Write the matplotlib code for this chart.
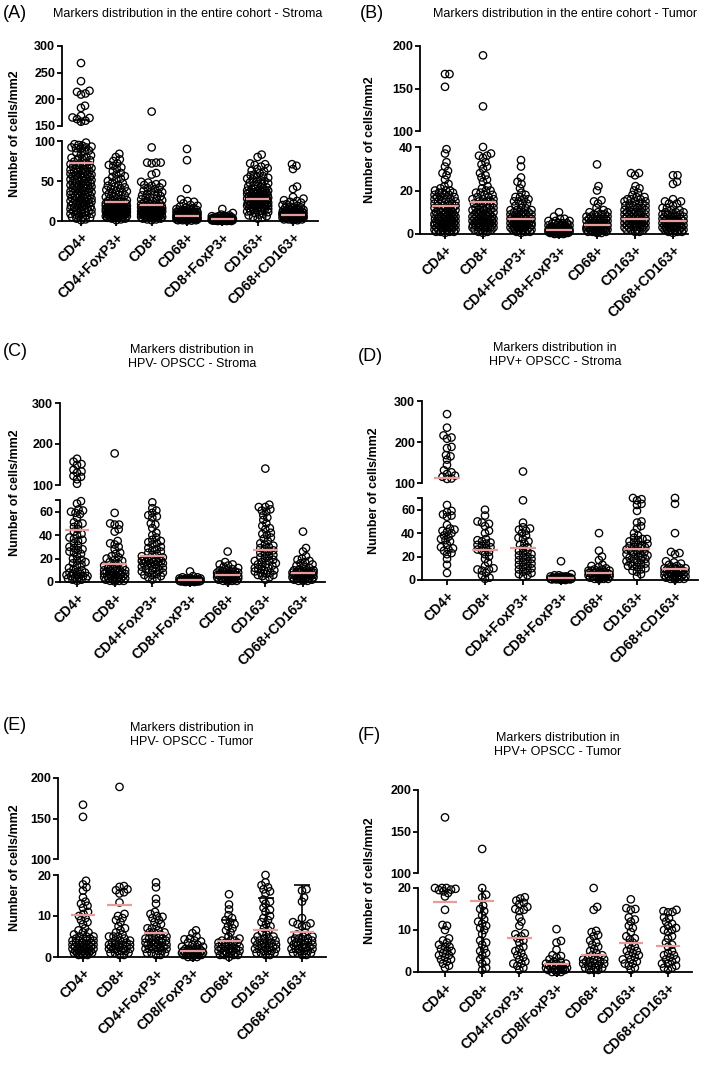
"""
Marker density dot plots (cells/mm2) with broken y axes, six panels A-F.
"""

import numpy as np
import matplotlib

matplotlib.use("Agg")

import matplotlib.pyplot as plt

plt.rcParams["font.family"] = ["Liberation Sans", "DejaVu Sans"]

W, H = 709, 1065

CATS_A = ["CD4+", "CD4+FoxP3+", "CD8+", "CD68+", "CD8+FoxP3+", "CD163+", "CD68+CD163+"]
CATS_BCD = ["CD4+", "CD8+", "CD4+FoxP3+", "CD8+FoxP3+", "CD68+", "CD163+", "CD68+CD163+"]
CATS_EF = ["CD4+", "CD8+", "CD4+FoxP3+", "CD8/FoxP3+", "CD68+", "CD163+", "CD68+CD163+"]

# ---- (A) entire cohort, stroma
A_CD4 = [268, 234, 216, 214, 211, 209, 188, 184, 169, 166, 165, 163, 160, 158,
         98, 96, 95, 94, 93, 92, 92, 91, 90, 88, 87, 85, 83, 82, 80, 79, 78, 77,
         76, 74, 73, 72, 71, 70, 69, 68, 67, 66, 65, 64, 63, 62, 62, 61, 60, 59,
         58, 58, 57, 56, 55, 54, 54, 53, 52, 51, 50, 49, 48, 48, 47, 46, 45, 44,
         44, 43, 42, 42, 41, 40, 39, 38, 37, 36, 36, 35, 34, 33, 32, 31, 30, 30,
         29, 28, 27, 26, 25, 25, 24, 24, 23, 22, 21, 21, 20, 19, 18, 17, 17, 16,
         15, 14, 13, 13, 12, 11, 10, 9, 9, 8, 7, 6, 5, 5, 4, 3, 2, 1,
         45, 52, 38, 61, 27, 33, 18, 56, 41, 66, 12, 29, 47, 35, 22, 58, 15, 70,
         43, 26, 9, 31, 50, 37, 64]
A_CD4FOXP3 = [84, 80, 77, 75, 72, 70, 69, 67, 65, 62, 60, 58, 56, 55, 53, 52, 50,
              48, 47, 45, 44, 43, 42, 41, 40, 39, 38, 37, 36, 35, 34, 33, 32, 31,
              30, 29, 28, 27, 26, 25, 25, 24, 24, 23, 23, 22, 22, 21, 21, 20, 20,
              20, 19, 19, 18, 18, 18, 17, 17, 16, 16, 16, 15, 15, 15, 14, 14, 14,
              13, 13, 13, 12, 12, 12, 11, 11, 11, 10, 10, 10, 9, 9, 9, 8, 8, 8, 7,
              7, 7, 6, 6, 6, 5, 5, 4, 4, 3, 3, 2, 1,
              12, 14, 9, 16, 11, 18, 7, 13, 15, 10, 19, 8, 17, 6, 21, 12, 14, 9,
              11, 13, 16, 10, 5, 22, 15]
A_CD8 = [177, 92, 73, 73, 73, 72, 60, 58, 49, 48, 47, 46, 45, 44, 42, 41, 40, 38,
         37, 36, 35, 34, 33, 32, 31, 30, 29, 28, 27, 26, 25, 24, 23, 22, 22, 21,
         21, 20, 20, 19, 19, 19, 18, 18, 17, 17, 17, 16, 16, 15, 15, 15, 14, 14,
         14, 13, 13, 12, 12, 12, 11, 11, 11, 10, 10, 10, 9, 9, 9, 8, 8, 8, 7, 7,
         7, 6, 6, 6, 5, 5, 4, 4, 3, 3, 2, 2, 1,
         8, 11, 14, 6, 17, 9, 12, 15, 5, 10, 13, 7, 16, 18, 4, 9, 11, 14, 8, 12]
A_CD68 = [90, 76, 40, 27, 25, 24, 22, 20, 19, 18, 17, 16, 15, 15, 14, 14, 13, 13,
          13, 12, 12, 12, 11, 11, 11, 10, 10, 10, 10, 9, 9, 9, 9, 8, 8, 8, 8, 7,
          7, 7, 7, 6, 6, 6, 6, 6, 5, 5, 5, 5, 5, 4, 4, 4, 4, 4, 3, 3, 3, 3, 3, 2,
          2, 2, 2, 1, 1, 1, 0.5, 0.5,
          3, 5, 7, 2, 4, 6, 8, 3, 5, 9, 4, 6, 2, 7, 3, 5, 10, 4]
A_CD8FOXP3 = [15, 10, 8, 7, 6, 6, 6, 5, 5, 5, 5, 4, 4, 4, 4, 4, 3, 3, 3, 3, 3, 3,
              2, 2, 2, 2, 2, 2, 2, 1.5, 1.5, 1, 1, 1, 1, 1, 1, 0.5, 0.5, 0.5, 0.5,
              0, 0, 0, 0, 1, 2, 3, 1.5, 2.5, 0.5, 1, 2, 3, 4, 1, 2]
A_CD163 = [83, 80, 72, 71, 70, 68, 66, 65, 63, 62, 60, 58, 57, 56, 55, 54, 53, 52,
           51, 50, 49, 48, 47, 46, 45, 44, 43, 42, 41, 40, 40, 39, 38, 38, 37, 36,
           36, 35, 34, 34, 33, 32, 32, 31, 30, 30, 29, 29, 28, 28, 27, 27, 26, 26,
           25, 25, 24, 24, 23, 23, 22, 22, 21, 21, 20, 20, 19, 19, 18, 18, 17, 16,
           16, 15, 14, 14, 13, 12, 11, 10, 9, 8, 7, 6, 5, 4, 3,
           25, 30, 22, 35, 28, 18, 32, 26, 20, 38, 24, 29, 15, 33, 27, 21, 31, 12,
           36, 23]
A_CD68CD163 = [71, 69, 65, 43, 40, 30, 28, 26, 25, 24, 23, 22, 21, 20, 19, 18, 17,
               16, 16, 15, 15, 14, 14, 14, 13, 13, 13, 12, 12, 12, 11, 11, 11, 10,
               10, 10, 10, 9, 9, 9, 9, 8, 8, 8, 8, 7, 7, 7, 7, 6, 6, 6, 6, 5, 5, 5,
               5, 4, 4, 4, 4, 3, 3, 3, 2, 2, 2, 1, 1,
               4, 6, 8, 10, 5, 7, 9, 3, 6, 11, 4, 8, 12, 5, 7, 2, 9, 6]
A_MEAN = [72, 24, 20, 6, 2, 28, 8]
A_SD = [90, None, None, None, None, None, None]

# ---- (B) entire cohort, tumor
B_CD4 = [167, 167, 152, 39, 37, 33, 31, 29, 28, 27, 25, 23, 22, 21, 20, 20, 20, 19,
         19, 19, 18, 18, 18, 17, 17, 17, 16, 16, 16, 15, 15, 15, 14, 14, 14, 13,
         13, 13, 12, 12, 12, 12, 11, 11, 11, 11, 10, 10, 10, 10, 9, 9, 9, 9, 8, 8,
         8, 8, 7, 7, 7, 7, 6, 6, 6, 6, 5, 5, 5, 5, 5, 4, 4, 4, 4, 4, 3, 3, 3, 3,
         3, 2, 2, 2, 2, 1, 1, 1, 0.5,
         3, 5, 7, 9, 4, 6, 8, 2, 10, 3, 5, 12, 4, 7, 6, 2, 9, 5, 3, 8, 4, 11, 6, 1]
B_CD8 = [189, 129, 40, 37, 36, 36, 35, 33, 32, 31, 30, 28, 27, 26, 25, 24, 22, 21,
         20, 20, 19, 19, 18, 18, 17, 17, 16, 16, 16, 15, 15, 15, 14, 14, 14, 13,
         13, 12, 12, 12, 11, 11, 11, 10, 10, 10, 9, 9, 9, 9, 8, 8, 8, 8, 7, 7, 7,
         7, 6, 6, 6, 6, 5, 5, 5, 5, 4, 4, 4, 4, 3, 3, 3, 3, 2, 2, 2, 1, 1, 0.5,
         3, 5, 7, 4, 6, 8, 2, 10, 3, 5, 9, 4, 7, 6, 12, 5, 3, 8, 4, 11]
B_CD4FOXP3 = [34, 31, 26, 24, 23, 21, 19, 18, 17, 17, 16, 16, 15, 15, 14, 14, 13,
              12, 12, 11, 11, 11, 10, 10, 10, 10, 9, 9, 9, 9, 8, 8, 8, 8, 7, 7, 7,
              7, 7, 6, 6, 6, 6, 6, 5, 5, 5, 5, 5, 4, 4, 4, 4, 4, 3, 3, 3, 3, 3, 2,
              2, 2, 2, 1, 1, 1, 0.5,
              3, 5, 2, 4, 6, 3, 5, 7, 2, 4, 8, 3, 6, 4, 5, 9]
B_CD8FOXP3 = [10, 8, 7, 7, 6, 6, 6, 5, 5, 5, 5, 4, 4, 4, 4, 4, 3, 3, 3, 3, 3, 3,
              2.5, 2.5, 2, 2, 2, 2, 2, 2, 1.5, 1.5, 1.5, 1, 1, 1, 1, 1, 1, 0.5, 0.5,
              0.5, 0.5, 0.5, 0, 0, 0, 1, 2, 1, 3, 2, 1, 0.5, 2, 1.5, 3]
B_CD68 = [32, 22, 20, 15.5, 15, 14, 12, 11, 10, 10, 10, 9, 9, 9, 8, 8, 8, 8, 7, 7,
          7, 7, 6, 6, 6, 6, 6, 5, 5, 5, 5, 5, 4, 4, 4, 4, 4, 3, 3, 3, 3, 3, 3, 2, 2,
          2, 2, 2, 1, 1, 1, 1, 0.5, 0.5,
          2, 3, 4, 5, 2, 3, 4, 6, 1, 3, 5, 2, 4, 7]
B_CD163 = [28, 27, 28, 22, 21, 20, 19, 18, 17, 17, 16, 16, 16, 15, 15, 15, 14, 14,
           14, 13, 13, 13, 12, 12, 12, 11, 11, 11, 10, 10, 10, 10, 9, 9, 9, 9, 8, 8,
           8, 8, 7, 7, 7, 7, 6, 6, 6, 6, 5, 5, 5, 5, 4, 4, 4, 4, 3, 3, 3, 3, 2, 2,
           2, 1, 1, 3, 5, 7, 4, 6, 8, 2, 9, 5, 3, 6, 4, 10, 7, 5]
B_CD68CD163 = [27, 27, 24, 23, 16, 15, 15, 14, 14, 13, 12, 12, 11, 11, 10, 10, 10,
               9, 9, 9, 9, 8, 8, 8, 8, 7, 7, 7, 7, 6, 6, 6, 6, 6, 5, 5, 5, 5, 5, 4,
               4, 4, 4, 4, 3, 3, 3, 3, 2, 2, 2, 2, 1, 1, 1, 0.5,
               3, 5, 2, 4, 6, 3, 7, 4, 5, 2, 8, 3, 6, 4]
B_MEAN = [13, 14.5, 7, 1.7, 4.1, 7, 6.1]
B_SD = [None] * 7

# ---- (C) HPV- OPSCC, stroma
C_CD4 = [164, 157, 151, 149, 137, 133, 130, 122, 120, 114, 103, 69, 67, 62, 61, 60,
         59, 58, 55, 51, 50, 49, 47, 45, 43, 41, 40, 38, 37, 36, 35, 33, 31, 30,
         29, 28, 27, 26, 25, 24, 22, 20, 19, 18, 17, 16, 15, 14, 12, 11, 10, 9, 8,
         7, 6, 6, 5, 5, 4, 3, 2, 1, 8, 5, 3, 2, 4, 7]
C_CD8 = [177, 59, 50, 49, 49, 45, 43, 35, 33, 32, 30, 28, 25, 24, 22, 21, 20, 19,
         18, 17, 16, 15, 14, 13, 12, 11, 10, 10, 9, 9, 8, 8, 7, 7, 6, 6, 5, 5, 4, 4,
         3, 3, 2, 2, 1, 1, 0.5, 9, 8, 6, 5, 4, 3, 2, 1, 7, 10, 12]
C_CD4FOXP3 = [68, 63, 61, 59, 57, 56, 55, 50, 49, 46, 42, 40, 38, 36, 35, 34, 33,
              32, 30, 29, 28, 27, 26, 25, 24, 23, 22, 21, 20, 19, 19, 18, 18, 17,
              17, 16, 16, 15, 15, 14, 13, 12, 11, 10, 9, 8, 7, 6, 5, 4, 3, 2, 20,
              19, 18, 17, 16, 14, 12, 10, 8, 6]
C_CD8FOXP3 = [9, 5, 4, 4, 3, 3, 3, 2, 2, 2, 2, 2, 1.5, 1.5, 1, 1, 1, 1, 1, 0.5, 0.5,
              0.5, 0.5, 0, 0, 0, 3, 2, 2, 1.5, 1, 1, 0.5, 0.5]
C_CD68 = [26, 17, 15, 15, 14, 13, 12, 11, 10, 10, 9, 9, 8, 8, 7, 7, 7, 6, 6, 6, 5,
          5, 5, 4, 4, 4, 3, 3, 3, 2, 2, 2, 1, 1, 0.5, 8, 7, 6, 5, 4, 3, 2, 1]
C_CD163 = [140, 66, 64, 64, 62, 61, 60, 57, 55, 53, 50, 48, 46, 45, 42, 41, 40, 38,
           37, 35, 33, 32, 31, 30, 29, 28, 27, 26, 25, 24, 23, 22, 21, 20, 19, 18,
           17, 16, 15, 14, 13, 12, 11, 10, 9, 8, 7, 6, 5, 4, 2, 18, 15, 12, 10, 8, 6]
C_CD68CD163 = [43, 29, 26, 22, 20, 19, 18, 17, 16, 15, 14, 13, 12, 11, 10, 10, 9,
               9, 9, 8, 8, 8, 7, 7, 7, 6, 6, 6, 5, 5, 5, 4, 4, 4, 3, 3, 3, 2, 2, 1,
               1, 10, 9, 8, 7, 6, 5, 4, 3, 2, 1]
C_MEAN = [44, 15.7, 22, 2, 6.3, 27, 8]
C_SD = [None] * 7

# ---- (D) HPV+ OPSCC, stroma
D_CD4 = [268, 235, 216, 211, 208, 188, 185, 168, 165, 157, 144, 131, 126, 122, 118,
         115, 111, 110, 64, 59, 58, 56, 55, 54, 47, 44, 43, 42, 41, 40, 38, 37, 35,
         34, 33, 30, 28, 27, 26, 25, 23, 22, 18, 13, 6]
D_CD8 = [60, 55, 50, 49, 48, 46, 42, 40, 35, 34, 33, 32, 31, 30, 29, 28, 27, 26, 25,
         24, 22, 20, 18, 15, 12, 10, 9, 9, 8, 6, 4, 2, 1]
D_CD4FOXP3 = [128, 68, 49, 45, 44, 43, 42, 40, 38, 36, 35, 33, 31, 30, 28, 27, 25,
              24, 23, 22, 21, 20, 19, 18, 17, 16, 15, 14, 13, 12, 11, 10, 9, 8, 7,
              6, 5, 4, 3]
D_CD8FOXP3 = [16, 5, 4, 4, 3, 3, 3, 2, 2, 2, 2, 2, 1.5, 1.5, 1, 1, 1, 1, 0.5, 0.5,
              0.5, 0, 0, 3, 2, 2, 1, 1, 0.5]
D_CD68 = [40, 25, 20, 17, 13, 12, 11, 10, 9, 9, 8, 8, 7, 7, 6, 6, 6, 5, 5, 5, 4, 4,
          4, 3, 3, 3, 2, 2, 2, 1, 1, 0.5, 8, 7, 6, 5, 4, 3, 2, 1]
D_CD163 = [70, 69, 68, 65, 64, 59, 50, 49, 46, 44, 40, 38, 36, 35, 35, 34, 33, 32,
           31, 30, 29, 28, 27, 26, 25, 24, 23, 22, 21, 20, 19, 18, 17, 16, 15, 14,
           13, 12, 11, 10, 9, 8, 7, 5, 3, 30, 28, 25, 22, 20, 18, 15, 12]
D_CD68CD163 = [70, 65, 40, 24, 23, 22, 16, 15, 14, 13, 12, 11, 10, 10, 9, 9, 8, 8,
               7, 7, 6, 6, 5, 5, 4, 4, 3, 3, 2, 2, 1, 1, 0.5, 10, 9, 8, 7, 6, 5, 4,
               3, 2, 1]
D_MEAN = [112, 26, 27, 2, 6.3, 26.3, 9.4]
D_SD = [None] * 7

# ---- (E) HPV- OPSCC, tumor
E_CD4 = [167, 152, 18.6, 17.7, 17, 16.2, 14.5, 13.5, 13, 12.5, 12, 11, 10.5, 10,
         9.5, 9, 8.5, 8, 7, 6.5, 6, 6, 5.5, 5, 5, 4.5, 4.5, 4, 4, 3.5, 3.5, 3, 3,
         2.5, 2.5, 2, 2, 1.5, 1.5, 1, 1, 0.5, 5, 4.5, 4, 3.5, 3, 2.5, 2, 1.5, 1,
         0.5, 2, 3, 1.5, 1, 0.5, 1, 2, 3, 1.5, 2.5, 4, 1, 2]
E_CD8 = [189, 17.3, 17.1, 16.5, 16.3, 15.8, 15.5, 13.3, 10.5, 10, 9.5, 9, 8.5, 7.5,
         7, 6.5, 6, 5.5, 5, 5, 4.5, 4, 4, 3.5, 3, 3, 2.5, 2, 2, 1.5, 1, 0.5, 5, 4,
         3.5, 3, 2.5, 2, 1.5, 1, 0.5, 2, 3, 1, 2, 3, 1.5, 2.5]
E_CD4FOXP3 = [18.2, 17, 14.2, 13, 11, 10.5, 10, 9.8, 9.5, 9, 8.5, 8, 7.5, 7, 7, 6.5,
              6, 6, 5.5, 5, 5, 4.5, 4.5, 4, 4, 3.5, 3.5, 3, 3, 2.5, 2.5, 2, 2, 1.5,
              1, 0.5, 6, 5, 4.5, 4, 3.5, 3, 2.5, 2, 1.5, 1, 0.5, 2.5, 3, 1, 2, 3.5]
E_CD8FOXP3 = [6.5, 5.8, 5, 4.5, 4.3, 4, 3.8, 3.5, 3, 3, 2.5, 2.5, 2, 2, 2, 1.5, 1.5,
              1.5, 1, 1, 1, 1, 0.5, 0.5, 0.5, 0, 0, 2, 1.5, 1.5, 1, 1, 1, 0.5, 0.5,
              0.5, 0, 1.2, 1.8]
E_CD68 = [15.3, 12.8, 11.6, 10.2, 9.5, 9, 8.5, 8, 7.5, 7, 6.5, 6, 5, 4.5, 4, 4, 3.5,
          3.5, 3, 3, 2.5, 2.5, 2, 2, 1.5, 1.5, 1, 1, 0.5, 0.5, 4, 3.5, 3, 2.5, 2, 2,
          1.5, 1.5, 1, 1, 0.5, 0.5, 0]
E_CD163 = [20, 18.2, 17.5, 17, 16.5, 16, 15.5, 14, 13.5, 13, 12, 11.5, 11, 10, 9.5,
           9, 8.5, 8, 7.5, 7, 6.5, 6, 5.5, 5, 4.5, 4, 4, 3.5, 3.5, 3, 3, 2.5, 2.5,
           2, 2, 1.5, 1.5, 1, 1, 0.5, 5, 4.5, 4, 3.5, 3, 2.5, 2, 1.5, 1, 0.5]
E_CD68CD163 = [16.5, 16.2, 14.5, 13.5, 9.5, 8.5, 8.2, 8, 7.6, 7.5, 6, 5.5, 5, 4.5,
               4.5, 4, 4, 3.5, 3.5, 3, 3, 2.5, 2.5, 2, 2, 1.5, 1.5, 1, 1, 0.5, 5,
               4.5, 4, 3.5, 3, 2.5, 2, 1.5, 1, 0.5, 2, 3]
E_MEAN = [10.3, 12.6, 5.9, 1.5, 3.8, 6.6, 6.1]
E_SD = [None, None, None, None, 5.2, 7.7, 11.5]

# ---- (F) HPV+ OPSCC, tumor
F_CD4 = [167, 20, 20, 19.8, 19.6, 19.5, 19.2, 20, 18.8, 18, 14.8, 11.2, 11, 10, 8,
         7.5, 7, 6.5, 6, 6, 5.5, 5, 5, 4.5, 4, 4, 3.5, 3, 3, 2.5, 2, 1.5, 1]
F_CD8 = [129, 20, 18.4, 17.8, 15.8, 15, 14.5, 13.5, 12.5, 12, 11.5, 11, 10.5, 10, 9,
         7.5, 7, 6.5, 5.5, 5, 4.5, 4, 3, 2.5, 2, 1, 0.5]
F_CD4FOXP3 = [17.8, 17.5, 17, 16.5, 16.2, 15.5, 15, 14.8, 14.5, 13, 12, 11, 9.2, 9,
              8.5, 8, 7.5, 7, 6, 5.5, 5, 4.5, 4, 3.5, 3, 2.5, 2, 2, 1.5, 1, 0.5]
F_CD8FOXP3 = [10.2, 7.4, 7, 5.3, 4, 3.8, 3.5, 3, 2.5, 2.5, 2, 2, 2, 1.5, 1.5, 1.5, 1,
              1, 1, 1, 0.5, 0.5, 0.5, 0, 0, 2, 1.5, 1, 1, 0.5, 0.5, 0]
F_CD68 = [20, 15.5, 14.8, 9.8, 9.5, 8.8, 8.5, 7.5, 7, 6.5, 6, 5.5, 5, 4.5, 4, 4, 3.5,
          3.5, 3, 3, 2.5, 2.5, 2, 2, 1.5, 1.5, 1, 1, 0.5, 0.5, 3, 2.5, 2, 1.5, 1,
          0.5]
F_CD163 = [17.3, 15.2, 15, 14.8, 13, 12.5, 12, 11, 10.5, 9.5, 8.5, 8, 7.8, 7, 6.5, 6,
           5.5, 5, 5, 4.5, 4, 4, 3.5, 3, 3, 2.5, 2, 2, 1.5, 1, 0.5]
F_CD68CD163 = [14.8, 14.5, 14.3, 14.2, 13, 12.8, 12, 11.5, 11, 10.5, 10, 10, 9.5, 8.5,
               8, 7, 6.5, 6, 5, 4.5, 4, 4, 3.5, 3, 3, 2.5, 2, 2, 1.5, 1, 1, 0.5]
F_MEAN = [16.6, 16.8, 8.1, 1.8, 4.1, 7, 6.2]
F_SD = [None, 25, None, None, None, None, None]

MEAN_COLOR = "#e99a9a"

# layout in image pixels: y axis x, x axis end, first/last category x,
# lower segment (bottom px, top px, vmin, vmax), upper segment likewise
PANELS = [
    dict(tag="(A)", tag_xy=(3, 14), title="Markers distribution in the entire cohort - Stroma",
         title_xy=(188, 14), ylab_x=15, cats=CATS_A,
         values=[A_CD4, A_CD4FOXP3, A_CD8, A_CD68, A_CD8FOXP3, A_CD163, A_CD68CD163],
         mean=A_MEAN, sd=A_SD, ax_x=62, right=318, c0=81, c6=293,
         lo=(221, 141, 0, 100), hi=(126, 46, 150, 300),
         lo_ticks=[0, 50, 100], lo_lab=["0", "50", "100"],
         hi_ticks=[150, 200, 250, 300]),
    dict(tag="(B)", tag_xy=(360, 14), title="Markers distribution in the entire cohort - Tumor",
         title_xy=(565, 14), ylab_x=370, cats=CATS_BCD,
         values=[B_CD4, B_CD8, B_CD4FOXP3, B_CD8FOXP3, B_CD68, B_CD163, B_CD68CD163],
         mean=B_MEAN, sd=B_SD, ax_x=420, right=688, c0=445, c6=673,
         lo=(234, 147, 0, 40), hi=(131, 46, 100, 200),
         lo_ticks=[0, 20, 40], lo_lab=["0", "20", "40"],
         hi_ticks=[100, 150, 200]),
    dict(tag="(C)", tag_xy=(3, 351), title="Markers distribution in\nHPV- OPSCC - Stroma",
         title_xy=(192, 357), ylab_x=15, cats=CATS_BCD,
         values=[C_CD4, C_CD8, C_CD4FOXP3, C_CD8FOXP3, C_CD68, C_CD163, C_CD68CD163],
         mean=C_MEAN, sd=C_SD, ax_x=60, right=325, c0=77, c6=303,
         lo=(582, 500, 0, 70), hi=(485, 403, 100, 300),
         lo_ticks=[0, 20, 40, 60, 70], lo_lab=["0", "20", "40", "60", ""],
         hi_ticks=[100, 200, 300]),
    dict(tag="(D)", tag_xy=(358, 356), title="Markers distribution in\nHPV+ OPSCC - Stroma",
         title_xy=(555, 355), ylab_x=374, cats=CATS_BCD,
         values=[D_CD4, D_CD8, D_CD4FOXP3, D_CD8FOXP3, D_CD68, D_CD163, D_CD68CD163],
         mean=D_MEAN, sd=D_SD, ax_x=422, right=698, c0=447, c6=675,
         lo=(580, 498, 0, 70), hi=(483, 401, 100, 300),
         lo_ticks=[0, 20, 40, 60, 70], lo_lab=["0", "20", "40", "60", ""],
         hi_ticks=[100, 200, 300]),
    dict(tag="(E)", tag_xy=(3, 726), title="Markers distribution in\nHPV- OPSCC - Tumor",
         title_xy=(192, 735), ylab_x=15, cats=CATS_EF,
         values=[E_CD4, E_CD8, E_CD4FOXP3, E_CD8FOXP3, E_CD68, E_CD163, E_CD68CD163],
         mean=E_MEAN, sd=E_SD, ax_x=58, right=326, c0=83, c6=302,
         lo=(957, 875, 0, 20), hi=(859, 778, 100, 200),
         lo_ticks=[0, 10, 20], lo_lab=["0", "10", "20"],
         hi_ticks=[100, 150, 200]),
    dict(tag="(F)", tag_xy=(358, 736), title="Markers distribution in\nHPV+ OPSCC - Tumor",
         title_xy=(558, 745), ylab_x=370, cats=CATS_EF,
         values=[F_CD4, F_CD8, F_CD4FOXP3, F_CD8FOXP3, F_CD68, F_CD163, F_CD68CD163],
         mean=F_MEAN, sd=F_SD, ax_x=418, right=692, c0=445, c6=668,
         lo=(972, 888, 0, 20), hi=(873, 790, 100, 200),
         lo_ticks=[0, 10, 20], lo_lab=["0", "10", "20"],
         hi_ticks=[100, 150, 200]),
]

DIAM = 4.5       # spacing between swarm neighbours in px (circles overlap a bit)
MAX_HALF = 10.5  # half width of a swarm column in px


def _rect(x0, y_top, x1, y_bot):
    return [x0 / W, 1 - y_bot / H, (x1 - x0) / W, (y_bot - y_top) / H]


def _to_px(v, seg):
    bot, top, vmin, vmax = seg
    return bot - (v - vmin) / (vmax - vmin) * (bot - top)


def _swarm(ys):
    """Greedy beeswarm offsets (px) for pixel heights ys."""
    cands = [0.0]
    for k in np.arange(0.5, MAX_HALF + 0.01, 0.5):
        cands += [k, -k]
    placed = []
    offs = np.zeros(len(ys))
    for i in np.argsort(-np.asarray(ys)):
        y = ys[i]
        best, best_d = 0.0, -1.0
        for c in cands:
            d = min((np.hypot(c - px, y - py) for px, py in placed), default=1e9)
            if d >= DIAM:
                best = c
                break
            if d > best_d:
                best, best_d = c, d
        offs[i] = best
        placed.append((best, y))
    return offs


def _style(ax, fs):
    for s in ("top", "right"):
        ax.spines[s].set_visible(False)
    ax.spines["left"].set_linewidth(1.3)
    ax.spines["bottom"].set_linewidth(1.3)
    ax.tick_params(axis="y", length=3.5, width=1.3, labelsize=fs, pad=1.5)
    for t in ax.get_yticklabels():
        t.set_fontweight("bold")


fig = plt.figure(figsize=(W / 100, H / 100), dpi=100)

for p in PANELS:
    sp = (p["c6"] - p["c0"]) / 6
    xlim = ((p["ax_x"] - p["c0"]) / sp, (p["right"] - p["c0"]) / sp)
    lo, hi = p["lo"], p["hi"]
    ax_lo = fig.add_axes(_rect(p["ax_x"], lo[1], p["right"], lo[0]))
    ax_hi = fig.add_axes(_rect(p["ax_x"], hi[1], p["right"], hi[0]))
    ax_lo.set_xlim(*xlim)
    ax_hi.set_xlim(*xlim)
    ax_lo.set_ylim(lo[2], lo[3])
    ax_hi.set_ylim(hi[2], hi[3])

    for i, vals in enumerate(p["values"]):
        vals = np.asarray(vals, dtype=float)
        in_lo = vals <= lo[3]
        ys = np.where(in_lo, _to_px(vals, lo), _to_px(vals, hi))
        xs = i + _swarm(ys) / sp
        for ax, m in ((ax_lo, in_lo), (ax_hi, ~in_lo)):
            if m.any():
                ax.scatter(xs[m], vals[m], s=28, facecolors="none",
                           edgecolors="black", linewidths=0.95,
                           clip_on=False, zorder=3)
        mean, sd = p["mean"][i], p["sd"][i]
        if sd is not None:
            for ax in (ax_lo, ax_hi):
                ax.errorbar([i], [mean], yerr=[[sd], [sd]], fmt="none",
                            ecolor="black", elinewidth=1.2, capsize=6,
                            capthick=1.2, zorder=4)
        mean_ax = ax_lo if mean <= lo[3] else ax_hi
        mean_ax.hlines(mean, i - 0.33, i + 0.33, color=MEAN_COLOR,
                       linewidth=1.6, zorder=5, clip_on=False)

    ax_lo.set_yticks(p["lo_ticks"])
    ax_lo.set_yticklabels(p["lo_lab"])
    ax_hi.set_yticks(p["hi_ticks"])
    ax_hi.set_yticklabels([str(t) for t in p["hi_ticks"]])
    _style(ax_lo, 9)
    _style(ax_hi, 9)
    ax_hi.spines["bottom"].set_visible(False)
    ax_hi.set_xticks([])

    ax_lo.set_xticks(range(7))
    ax_lo.set_xticklabels(p["cats"], rotation=45, ha="right", va="top",
                          rotation_mode="anchor", fontsize=10,
                          fontweight="bold")
    ax_lo.tick_params(axis="x", length=3.5, width=1.3, pad=3)

    ymid = (lo[0] + hi[1]) / 2
    fig.text(p["ylab_x"] / W, 1 - ymid / H, "Number of cells/mm2",
             rotation=90, ha="center", va="center", fontsize=9,
             fontweight="bold")
    fig.text(p["tag_xy"][0] / W, 1 - p["tag_xy"][1] / H, p["tag"],
             ha="left", va="center", fontsize=13)
    fig.text(p["title_xy"][0] / W, 1 - p["title_xy"][1] / H, p["title"],
             ha="center", va="center", fontsize=9, linespacing=1.15)

fig.savefig("out.png", dpi=100)
plt.close(fig)
